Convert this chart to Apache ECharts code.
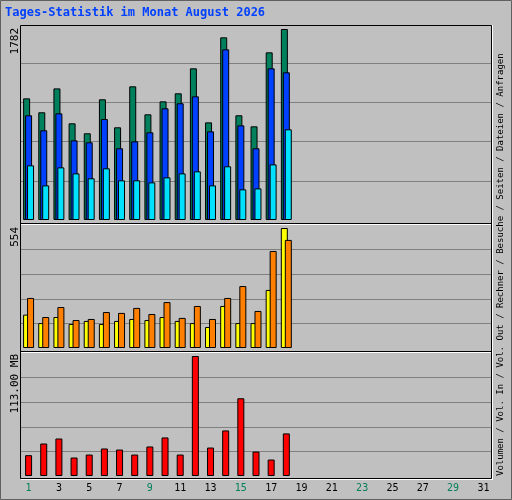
<!DOCTYPE html>
<html><head><meta charset="utf-8">
<script src="https://cdn.jsdelivr.net/npm/echarts@6/dist/echarts.min.js"></script>
<style>html,body{margin:0;padding:0;background:#c0c0c0}#c{width:512px;height:500px}</style>
</head><body><div id="c"></div>
<script>
const days = Array.from({length:31},(_,i)=>String(i+1));
const weekendDays = ['1','2','8','9','15','16','22','23','29','30'];
const anfragen = [1135,1005,1228,902,809,1126,865,1247,986,1107,1182,1415,911,1704,977,874,1564,1782];
const dateien  = [977,837,995,743,725,942,669,734,818,1042,1089,1154,827,1592,883,669,1415,1378];
const seiten   = [510,323,491,435,389,482,370,370,351,398,435,454,323,501,286,295,519,846];
const besuche  = [154,115,143,111,125,111,125,134,129,143,125,115,97,194,115,115,268,554];
const rechner  = [231,143,189,129,134,166,162,185,157,212,139,194,134,231,286,171,448,499];
const volumen  = [19.6,30.6,35.3,17.4,20.2,25.9,24.9,20.2,27.8,36.3,20.2,113,26.8,42.9,73.2,23.0,15.5,40.1];
const maxHits = 1782, maxVisits = 554, maxVol = 113;

const mono = 'DejaVu Sans Mono';
const green = '#00805c';
const chart = echarts.init(document.getElementById('c'));
const grids = [{top:29,height:191},{top:228,height:120},{top:356,height:120}].map(g=>({left:21,right:21,top:g.top,height:g.height}));
const xAxes = [0,1,2].map(i=>({
  type:'category', gridIndex:i, data:days,
  axisLine:{show:false}, axisTick:{show:false},
  axisLabel: i<2 ? {show:false} : {show:true, margin:7, fontFamily:mono, fontSize:10,
    color:(v)=>weekendDays.includes(v)?green:'#000'}
}));
const yAxes = [maxHits,maxVisits,maxVol].map((m,i)=>({
  type:'value', gridIndex:i, min:0, max:m, interval:m*0.205,
  axisLabel:{show:false}, axisLine:{show:false}, axisTick:{show:false},
  splitLine:{show:true, showMaxLine:false, showMinLine:false, lineStyle:{color:'#808080',width:1}}
}));
const bs = (data,color,xi,gap)=>({type:'bar',data,xAxisIndex:xi,yAxisIndex:xi,barWidth:7,barGap:gap,
  itemStyle:{color,borderColor:'#000',borderWidth:1},animation:false,silent:true});
const legendRich = {
  r:{color:'#ff0000'}, b:{color:'#0040ff'}, g:{color:green}, o:{color:'#ff8000'},
  y:{color:'#ffff00'}, c:{color:'#00e0ff'}, k:{color:'#000'}
};
Object.values(legendRich).forEach(s=>{s.fontFamily=mono;s.fontSize=9;});
chart.setOption({
  backgroundColor:'#c0c0c0',
  animation:false,
  grid:grids, xAxis:xAxes, yAxis:yAxes,
  series:[
    bs(anfragen,green,0,'-72%'), bs(dateien,'#0040ff',0,'-72%'), bs(seiten,'#00e0ff',0,'-72%'),
    bs(besuche,'#ffff00',1,'-43%'), bs(rechner,'#ff8000',1,'-43%'),
    bs(volumen,'#ff0000',2,'0%')
  ],
  graphic:[
    {type:'rect',shape:{x:0.5,y:0.5,width:511,height:499},style:{fill:'none',stroke:'#606060',lineWidth:1},z:-1},
    {type:'rect',shape:{x:20.5,y:25.5,width:471,height:453},style:{fill:'none',stroke:'#000',lineWidth:1},z:10},
    {type:'line',shape:{x1:21,y1:479.5,x2:493,y2:479.5},style:{stroke:'#fff',lineWidth:1},z:10},
    {type:'line',shape:{x1:492.5,y1:25,x2:492.5,y2:480},style:{stroke:'#fff',lineWidth:1},z:10},
    {type:'line',shape:{x1:21,y1:223.5,x2:491,y2:223.5},style:{stroke:'#000',lineWidth:1},z:10},
    {type:'line',shape:{x1:21,y1:224.5,x2:491,y2:224.5},style:{stroke:'#fff',lineWidth:1},z:10},
    {type:'line',shape:{x1:21,y1:351.5,x2:491,y2:351.5},style:{stroke:'#000',lineWidth:1},z:10},
    {type:'line',shape:{x1:21,y1:352.5,x2:491,y2:352.5},style:{stroke:'#fff',lineWidth:1},z:10},
    {type:'text',left:5,top:7,style:{text:'Tages-Statistik im Monat August 2026',fill:'#0040ff',font:'bold 12px "DejaVu Sans Mono"'}},
    {type:'text',x:15.5,y:28,rotation:Math.PI/2,style:{text:String(maxHits),fill:'#000',font:'11px "DejaVu Sans Mono"',align:'right',verticalAlign:'middle'}},
    {type:'text',x:15.5,y:227,rotation:Math.PI/2,style:{text:String(maxVisits),fill:'#000',font:'11px "DejaVu Sans Mono"',align:'right',verticalAlign:'middle'}},
    {type:'text',x:15.5,y:354,rotation:Math.PI/2,style:{text:maxVol.toFixed(2)+' MB',fill:'#000',font:'11px "DejaVu Sans Mono"',align:'right',verticalAlign:'middle'}},
    {type:'text',x:501,y:476,rotation:Math.PI/2,style:{
      text:'{r|Volumen}{k| / }{b|Vol. In}{k| / }{g|Vol. Out}{k| / }{o|Rechner}{k| / }{y|Besuche}{k| / }{c|Seiten}{k| / }{b|Dateien}{k| / }{g|Anfragen}',
      rich:legendRich, align:'left', verticalAlign:'middle', font:'9px "DejaVu Sans Mono"'}}
  ]
});
</script></body></html>
